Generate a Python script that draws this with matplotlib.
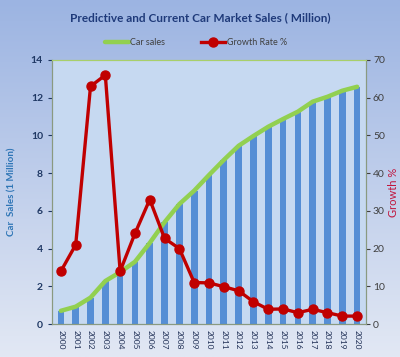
import matplotlib
matplotlib.use('Agg')
import matplotlib.pyplot as plt
import numpy as np

years = [str(y) for y in range(2000, 2021)]
car_sales = [0.7, 0.92, 1.4, 2.28, 2.75, 3.3, 4.3, 5.4, 6.36, 7.07, 7.9, 8.7,
             9.45, 9.97, 10.46, 10.87, 11.26, 11.79, 12.05, 12.37, 12.58]
growth = [14, 21, 63, 66, 14, 24, 33, 22.7, 20, 11, 10.9, 9.9, 8.8, 5.9,
          3.9, 4, 3, 3.9, 3, 2.1, 2.1]

plt.rcParams['font.family'] = ['Lato', 'DejaVu Sans']

fig = plt.figure(figsize=(4, 3.57), dpi=100)

# gradient background
bg = fig.add_axes([0, 0, 1, 1], zorder=-10)
grad = np.linspace(0, 1, 256).reshape(-1, 1)
top_c = np.array([0x9c, 0xb4, 0xe2]) / 255
bot_c = np.array([0xe2, 0xe8, 0xf4]) / 255
img = top_c + (bot_c - top_c) * grad[:, :, None]
bg.imshow(img, aspect='auto', extent=[0, 1, 0, 1])
bg.axis('off')

ax = fig.add_axes([0.13, 0.0924, 0.785, 0.7396])
ax.set_facecolor('#c6d9f1')
x = np.arange(len(years))
ax.bar(x, car_sales, width=0.45, color='#558ed5', zorder=2)
ax.plot(x, car_sales, color='#92d050', lw=3.2, zorder=3, label='Car sales',
        solid_capstyle='round')
ax.set_ylim(0, 14)
ax.set_xlim(-0.6, len(years) - 0.4)
ax.set_yticks(range(0, 15, 2))
ax.set_xticks(x)
ax.set_xticklabels(years, rotation=270, fontsize=6, color='#1f2f55')
ax.tick_params(axis='y', labelsize=7.5, colors='#1f3864', length=3)
ax.tick_params(axis='x', length=0, pad=4)
for lbl in ax.get_yticklabels():
    lbl.set_fontweight('bold')
ax.set_ylabel('Car  Sales (1 Million)', fontsize=7, color='#2e75b6',
              fontweight='bold', labelpad=10)

ax2 = ax.twinx()
ax2.plot(x, growth, color='#c00000', lw=2.4, marker='o', markersize=6.5,
         zorder=4, label='Growth Rate %')
ax2.set_ylim(0, 70)
ax2.set_yticks(range(0, 71, 10))
ax2.tick_params(axis='y', labelsize=7.5, colors='#404040', length=3, pad=2)
ax2.set_ylabel('Growth %', fontsize=8, color='#c0143c', labelpad=2)

for a in (ax, ax2):
    for s in a.spines.values():
        s.set_color('#8a9a80')
        s.set_linewidth(0.8)
    a.spines['top'].set_color('#a8cf6a')

fig.text(0.5, 0.95, 'Predictive and Current Car Market Sales ( Million)',
         ha='center', va='center', fontsize=8.5, fontweight='bold',
         color='#1f3a7a')

h1, l1 = ax.get_legend_handles_labels()
h2, l2 = ax2.get_legend_handles_labels()
fig.legend(h1 + h2, l1 + l2, loc='center', bbox_to_anchor=(0.49, 0.88),
           ncol=2, frameon=False, fontsize=6.5, handlelength=2.6,
           columnspacing=4, labelcolor='#404040', handletextpad=0.2)

fig.savefig('out.png', dpi=100)
